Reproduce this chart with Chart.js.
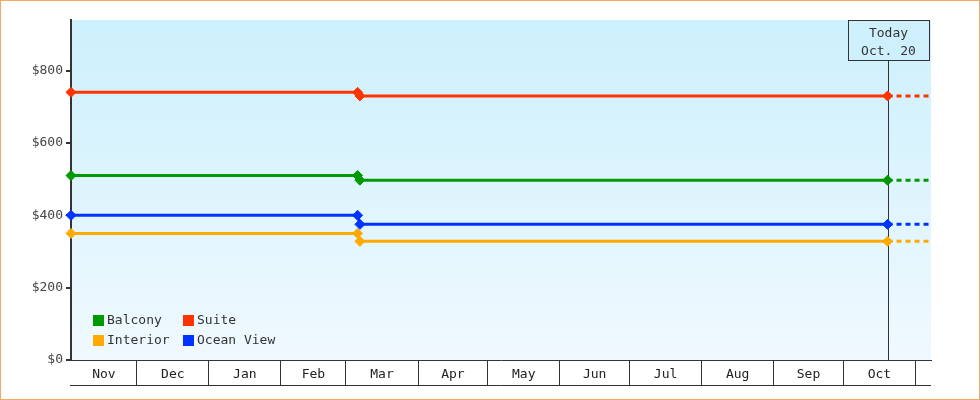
<!DOCTYPE html>
<html>
<head>
<meta charset="utf-8">
<script src="https://cdn.jsdelivr.net/npm/chart.js@4/dist/chart.umd.min.js"></script>
<style>
    body { margin: 0; background: #fff; }
    #wrap { width: 980px; height: 400px; box-sizing: border-box; border: 1px solid #f0aa64; }
    canvas { display: block; }
</style>
</head>
<body>
<div id="wrap"><canvas id="priceChart" width="978" height="398"></canvas></div>
<script>
// day offsets counted from Nov 1
const monthNames = ['Nov', 'Dec', 'Jan', 'Feb', 'Mar', 'Apr', 'May', 'Jun', 'Jul', 'Aug', 'Sep', 'Oct'];
const monthStarts = [0, 30, 61, 92, 120, 151, 181, 212, 242, 273, 304, 334, 365];
const axisStart = 1.7;
const axisEnd = 371.7;
const lastOldDay = 125;
const firstNewDay = 126;
const todayDay = 353;
const todayLines = ['Today', 'Oct. 20'];

const seriesNames = ['Balcony', 'Suite', 'Interior', 'Ocean View'];
const seriesColors = ['#009900', '#ff3300', '#ffaa00', '#0033ff'];
const oldPrices = [510, 740, 350, 400];
const newPrices = [497, 730, 328, 375];

const yTicks = [0, 200, 400, 600, 800];
const yMax = 940;

const monoFont = { family: 'DejaVu Sans Mono', size: 13 };
const inkColor = '#333';

// x ticks: month boundaries (grid only) and band centres (label only)
const boundaryTicks = monthStarts.filter(day => day > axisStart && day < axisEnd);
const labelTicks = monthNames.map((name, i) => {
    const from = Math.max(monthStarts[i], axisStart);
    const to = Math.min(monthStarts[i + 1], axisEnd);
    return { value: (from + to) / 2, label: name };
});

function isBoundary(value) {
    return boundaryTicks.includes(value);
}

const datasets = seriesNames.map((name, i) => ({
    label: name,
    data: [
        { x: axisStart, y: oldPrices[i] },
        { x: lastOldDay, y: oldPrices[i] },
        { x: firstNewDay, y: newPrices[i] },
        { x: todayDay, y: newPrices[i] },
        { x: axisEnd, y: newPrices[i] },
    ],
    borderColor: seriesColors[i],
    backgroundColor: seriesColors[i],
    borderWidth: 3,
    pointStyle: 'rectRot',
    pointRadius: ctx => (ctx.dataIndex === 4 ? 0 : 5),
    pointBorderWidth: 1,
    pointBorderColor: seriesColors[i],
    segment: { borderDash: ctx => (ctx.p0DataIndex === 3 ? [5, 4] : undefined) },
    clip: false,
}));

const backgroundPlugin = {
    id: 'plotBackground',
    beforeDraw(chart) {
        const { ctx, chartArea: area } = chart;
        const gradient = ctx.createLinearGradient(0, area.top, 0, area.bottom);
        gradient.addColorStop(0, '#ccf0fc');
        gradient.addColorStop(1, '#f0f9ff');
        ctx.save();
        ctx.fillStyle = gradient;
        ctx.fillRect(area.left, area.top, area.right - area.left, area.bottom - area.top);
        ctx.restore();
    },
};

const todayPlugin = {
    id: 'todayMarker',
    beforeDatasetsDraw(chart) {
        const { ctx, chartArea: area } = chart;
        const x = Math.round(chart.scales.x.getPixelForValue(todayDay)) + 0.5;
        const boxW = 81, boxH = 40;
        const boxLeft = Math.round(x - boxW / 2) + 0.5;
        const boxTop = area.top + 0.5;
        ctx.save();
        ctx.strokeStyle = inkColor;
        ctx.lineWidth = 1;
        ctx.beginPath();
        ctx.moveTo(x, boxTop + boxH);
        ctx.lineTo(x, area.bottom);
        ctx.stroke();
        ctx.fillStyle = '#cdf0fc';
        ctx.fillRect(boxLeft, boxTop, boxW, boxH);
        ctx.strokeRect(boxLeft, boxTop, boxW, boxH);
        ctx.fillStyle = inkColor;
        ctx.font = `${monoFont.size}px "${monoFont.family}"`;
        ctx.textAlign = 'center';
        ctx.textBaseline = 'middle';
        ctx.fillText(todayLines[0], x, boxTop + 13);
        ctx.fillText(todayLines[1], x, boxTop + 31);
        ctx.restore();
    },
};

const legendPlugin = {
    id: 'insideLegend',
    afterDatasetsDraw(chart) {
        const { ctx, chartArea: area } = chart;
        ctx.save();
        ctx.font = `${monoFont.size}px "${monoFont.family}"`;
        ctx.textBaseline = 'middle';
        ctx.textAlign = 'left';
        chart.data.datasets.forEach((dataset, i) => {
            const left = area.left + 22 + (i % 2) * 90;
            const top = area.bottom - 45 + Math.floor(i / 2) * 20;
            ctx.fillStyle = dataset.borderColor;
            ctx.fillRect(left, top, 11, 11);
            ctx.fillStyle = inkColor;
            ctx.fillText(dataset.label, left + 14, top + 6);
        });
        ctx.restore();
    },
};

const axisBottomPlugin = {
    id: 'axisBottomLine',
    afterDraw(chart) {
        const { ctx } = chart;
        const xScale = chart.scales.x;
        const y = xScale.top + 25.5;
        ctx.save();
        ctx.strokeStyle = inkColor;
        ctx.lineWidth = 1;
        ctx.beginPath();
        ctx.moveTo(xScale.left - 1, y);
        ctx.lineTo(xScale.right, y);
        ctx.stroke();
        ctx.restore();
    },
};

new Chart(document.getElementById('priceChart'), {
    type: 'line',
    data: { datasets },
    options: {
        responsive: false,
        animation: false,
        events: [],
        layout: { padding: { top: 19, right: 48, bottom: 0, left: 0 } },
        plugins: { legend: { display: false }, tooltip: { enabled: false } },
        scales: {
            x: {
                type: 'linear',
                min: axisStart,
                max: axisEnd,
                afterBuildTicks: scale => {
                    scale.ticks = [...boundaryTicks.map(value => ({ value })), ...labelTicks.map(t => ({ value: t.value }))]
                        .sort((a, b) => a.value - b.value);
                },
                afterFit: scale => { scale.height = 39; },
                ticks: {
                    autoSkip: false,
                    maxRotation: 0,
                    padding: -18,
                    color: '#222',
                    font: monoFont,
                    callback: value => {
                        const found = labelTicks.find(t => t.value === value);
                        return found ? found.label : '';
                    },
                },
                grid: {
                    drawOnChartArea: false,
                    drawTicks: true,
                    tickLength: 25,
                    lineWidth: 1,
                    color: ctx => (ctx.tick && isBoundary(ctx.tick.value) ? inkColor : 'rgba(0,0,0,0)'),
                },
                border: { display: true, color: inkColor, width: 1 },
            },
            y: {
                min: 0,
                max: yMax,
                afterBuildTicks: scale => { scale.ticks = yTicks.map(value => ({ value })); },
                afterFit: scale => { scale.width = 70; },
                ticks: {
                    padding: 3,
                    color: '#444',
                    font: monoFont,
                    callback: value => '$' + value,
                },
                grid: { drawOnChartArea: false, drawTicks: true, tickLength: 5, lineWidth: 2, color: inkColor },
                border: { display: true, color: inkColor, width: 2 },
            },
        },
    },
    plugins: [backgroundPlugin, todayPlugin, legendPlugin, axisBottomPlugin],
});
</script>
</body>
</html>
